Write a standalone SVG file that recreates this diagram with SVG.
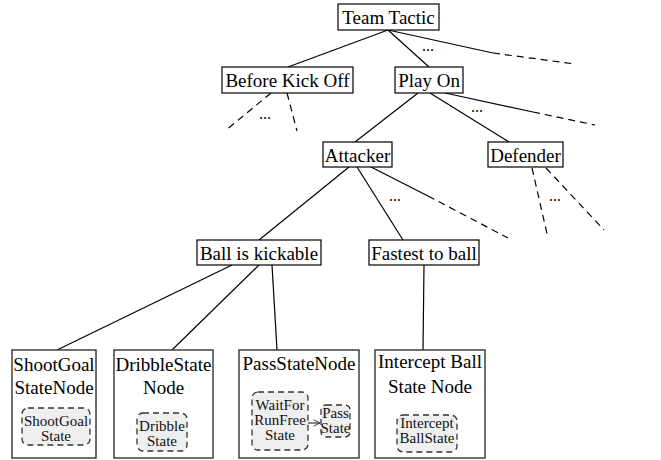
<svg xmlns="http://www.w3.org/2000/svg" width="661" height="460" viewBox="0 0 661 460" font-family="Liberation Serif, DejaVu Serif, Times New Roman, Times, serif">
<defs>
<style>
.box{fill:#fff;stroke:#000;stroke-width:1.2}
.big{fill:#fff;stroke:#333;stroke-width:1.4}
.inner{fill:#efefef;stroke:#333;stroke-width:1.3;stroke-dasharray:6,4}
.t{font-size:19px;fill:#000;text-anchor:middle}
.s{font-size:15px;fill:#111;text-anchor:middle}
.dots{font-size:16px;fill:#000;text-anchor:middle}
.ln{stroke:#000;stroke-width:1.2;fill:none}
.dl{stroke:#000;stroke-width:1.2;fill:none;stroke-dasharray:7,5}
</style>
<marker id="arr" viewBox="0 0 10 10" refX="9" refY="5" markerWidth="8" markerHeight="8" orient="auto" markerUnits="userSpaceOnUse">
<path d="M1,1 L9,5 L1,9" fill="none" stroke="#333" stroke-width="1.2"/>
</marker>
</defs>
<rect width="661" height="460" fill="#fff"/>

<g id="connectors">
<line class="ln" x1="388" y1="30" x2="288" y2="67"/>
<line class="ln" x1="388" y1="30" x2="429" y2="67"/>
<line class="ln" x1="388" y1="30" x2="493" y2="53"/>
<line class="dl" x1="493" y1="53" x2="575" y2="64"/>
<line class="ln" x1="418" y1="93" x2="355" y2="142"/>
<line class="ln" x1="430" y1="93" x2="509" y2="142"/>
<line class="ln" x1="445" y1="93" x2="533" y2="112"/>
<line class="dl" x1="533" y1="112" x2="595" y2="125"/>
<line class="dl" x1="271" y1="93" x2="225" y2="131"/>
<line class="dl" x1="287" y1="93" x2="297" y2="131"/>
<line class="ln" x1="349" y1="167" x2="259" y2="240"/>
<line class="ln" x1="357" y1="167" x2="403" y2="240"/>
<line class="ln" x1="371" y1="167" x2="428" y2="196"/>
<line class="dl" x1="428" y1="196" x2="508" y2="238"/>
<line class="dl" x1="532" y1="168" x2="548" y2="238"/>
<line class="dl" x1="546" y1="168" x2="604" y2="230"/>
<line class="ln" x1="232" y1="265" x2="57" y2="350"/>
<line class="ln" x1="259" y1="265" x2="172" y2="350"/>
<line class="ln" x1="272" y1="265" x2="277" y2="350"/>
<line class="ln" x1="424" y1="265" x2="423" y2="350"/>
<text class="dots" x="428" y="51">...</text>
<text class="dots" x="477" y="112">...</text>
<text class="dots" x="265" y="119">...</text>
<text class="dots" x="395" y="201">...</text>
<text class="dots" x="555" y="201">...</text>
</g>

<g id="team-tactic">
<rect class="box" x="338" y="4" width="101" height="26"/>
<text class="t" x="388.5" y="24" font-size="18">Team Tactic</text>
</g>
<g id="before-kick-off">
<rect class="box" x="222" y="67" width="131" height="26"/>
<text class="t" x="287.5" y="87">Before Kick Off</text>
</g>
<g id="play-on">
<rect class="box" x="395" y="67" width="68" height="26"/>
<text class="t" x="429" y="87">Play On</text>
</g>
<g id="attacker">
<rect class="box" x="323" y="142" width="69" height="25"/>
<text class="t" x="357.5" y="162">Attacker</text>
</g>
<g id="defender">
<rect class="box" x="488" y="142" width="75" height="25"/>
<text class="t" x="525.5" y="162">Defender</text>
</g>
<g id="ball-kickable">
<rect class="box" x="197" y="240" width="124" height="25"/>
<text class="t" x="259" y="260">Ball is kickable</text>
</g>
<g id="fastest">
<rect class="box" x="369" y="240" width="110" height="25"/>
<text class="t" x="424" y="260">Fastest to ball</text>
</g>

<g id="shootgoal-node">
<rect class="big" x="12" y="350" width="84" height="108"/>
<text class="t" x="54" y="371">ShootGoal</text>
<text class="t" x="54" y="394">StateNode</text>
<rect class="inner" x="22" y="408" width="68" height="37" rx="6"/>
<text class="s" x="56" y="426">ShootGoal</text>
<text class="s" x="56" y="441">State</text>
</g>
<g id="dribble-node">
<rect class="big" x="114" y="350" width="99" height="108"/>
<text class="t" x="163.5" y="371">DribbleState</text>
<text class="t" x="163.5" y="394">Node</text>
<rect class="inner" x="137" y="413" width="50" height="38" rx="6"/>
<text class="s" x="162" y="431">Dribble</text>
<text class="s" x="162" y="446">State</text>
</g>
<g id="pass-node">
<rect class="big" x="239" y="350" width="120" height="108"/>
<text class="t" x="299" y="370">PassStateNode</text>
<rect class="inner" x="252" y="392" width="56" height="58" rx="6"/>
<text class="s" x="280" y="410">WaitFor</text>
<text class="s" x="280" y="425">RunFree</text>
<text class="s" x="280" y="440">State</text>
<line x1="308" y1="423" x2="320" y2="423" stroke="#333" stroke-width="1.2" marker-end="url(#arr)"/>
<rect class="inner" x="321" y="405" width="29" height="32" rx="5"/>
<text class="s" x="335.5" y="418" font-size="12">Pass</text>
<text class="s" x="335.5" y="433" font-size="12">State</text>
</g>
<g id="intercept-node">
<rect class="big" x="375" y="350" width="110" height="108"/>
<text class="t" x="430" y="368">Intercept Ball</text>
<text class="t" x="430" y="393">State Node</text>
<rect class="inner" x="397" y="415" width="60" height="37" rx="6"/>
<text class="s" x="427" y="428">Intercept</text>
<text class="s" x="427" y="443">BallState</text>
</g>
</svg>
